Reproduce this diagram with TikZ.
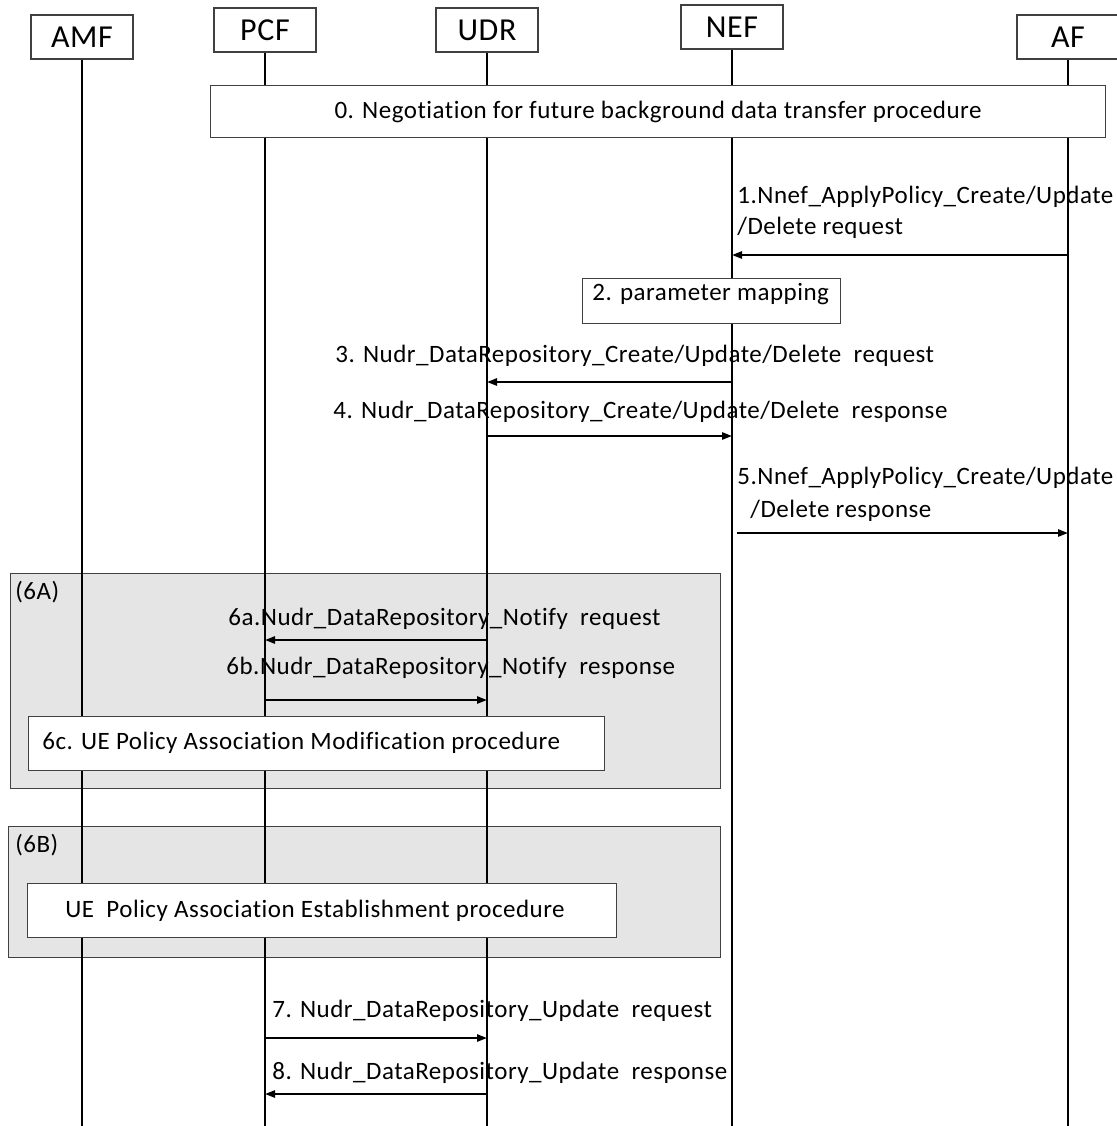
\documentclass[tikz,border=0pt]{standalone}
\usepackage{fontspec}
\setmainfont{Carlito}[Ligatures=NoCommon,LetterSpace=2]
\usetikzlibrary{arrows.meta}
\tikzset{
  party/.style={draw=black!75,line width=0.6pt,minimum width=51pt,minimum height=22pt,inner sep=0pt,font=\fontsize{16}{19}\selectfont},
  procbox/.style={draw=black!75,fill=white,line width=0.6pt,inner sep=0pt,anchor=north west},
  groupbox/.style={draw=black!75,fill=black!10,line width=0.6pt,inner sep=0pt,anchor=north west},
  lifeline/.style={line width=0.7pt},
  msg/.style={line width=1pt,-{Triangle[length=5pt,width=3.6pt]}},
  lbl/.style={anchor=west,inner sep=0pt,font=\fontsize{12.5}{15}\selectfont}
}
\begin{document}
\begin{tikzpicture}[x=0.5pt,y=-0.5pt]
\useasboundingbox (0,0) rectangle (1117,1126);
% groups 6A and 6B
\node[groupbox,minimum width=355pt,minimum height=107.5pt] (g6a) at (10,573) {};
\node[groupbox,minimum width=356pt,minimum height=65.5pt] (g6b) at (8,826) {};
\node[lbl] (t6a) at (15,592) {(6A)};
\node[lbl] (t6b) at (15,845) {(6B)};
% participants
\node[party] (amf) at (82,37) {AMF};
\node[party] (pcf) at (265,30) {PCF};
\node[party] (udr) at (487,30) {UDR};
\node[party] (nef) at (732,27) {NEF};
\node[party] (af) at (1068,37) {AF};
% message labels
\node[lbl] (m1a) at (737,197) {1.Nnef\_ApplyPolicy\_Create/Update};
\node[lbl] (m1b) at (737,228) {/Delete request};
\node[lbl] (m3) at (335,356) {3. Nudr\_DataRepository\_Create/Update/Delete~ request};
\node[lbl] (m4) at (333,412) {4. Nudr\_DataRepository\_Create/Update/Delete~ response};
\node[lbl] (m5a) at (737,478) {5.Nnef\_ApplyPolicy\_Create/Update};
\node[lbl] (m5b) at (750,511) {/Delete response};
\node[lbl] (m6a) at (228,619) {6a.Nudr\_DataRepository\_Notify~ request};
\node[lbl] (m6b) at (226,668) {6b.Nudr\_DataRepository\_Notify~ response};
\node[lbl] (m7) at (272,1011) {7. Nudr\_DataRepository\_Update~ request};
\node[lbl] (m8) at (272,1073) {8. Nudr\_DataRepository\_Update~ response};
% lifelines
\foreach \p in {amf,pcf,udr,nef,af}
  \draw[lifeline] (\p.south) -- (\p |- 0,1126) coordinate (\p end);
% procedure boxes
\node[procbox,minimum width=447.5pt,minimum height=26pt] (p0) at (210,85) {};
\node[font=\fontsize{12.5}{15}\selectfont] (t0) at (p0.center) {0. Negotiation for future background data transfer procedure};
\node[procbox,minimum width=129pt,minimum height=22.5pt] (p2) at (582,278) {};
\node[lbl] (t2) at (592,294) {2. parameter mapping};
\node[procbox,minimum width=288pt,minimum height=27pt] (p6c) at (28,716) {};
\node[lbl] (t6c) at (42,743) {6c. UE Policy Association Modification procedure};
\node[procbox,minimum width=294.5pt,minimum height=27pt] (p6e) at (27,883) {};
\node[lbl] (t6e) at (65,911) {UE~ Policy Association Establishment procedure};
% messages
\path (af |- 0,255) coordinate (af1) (nef |- 0,255) coordinate (nef1);
\path (nef |- 0,382) coordinate (nef3) (udr |- 0,382) coordinate (udr3);
\path (udr |- 0,436) coordinate (udr4) (nef |- 0,436) coordinate (nef4);
\path ([xshift=2.5pt]nef |- 0,533) coordinate (nef5) (af |- 0,533) coordinate (af5);
\path (udr |- 0,640) coordinate (udr6a) (pcf |- 0,640) coordinate (pcf6a);
\path (pcf |- 0,700) coordinate (pcf6b) (udr |- 0,700) coordinate (udr6b);
\path (pcf |- 0,1038) coordinate (pcf7) (udr |- 0,1038) coordinate (udr7);
\path (udr |- 0,1094) coordinate (udr8) (pcf |- 0,1094) coordinate (pcf8);
\draw[msg] (af1) -- (nef1);
\draw[msg] (nef3) -- (udr3);
\draw[msg] (udr4) -- (nef4);
\draw[msg] (nef5) -- (af5);
\draw[msg] (udr6a) -- (pcf6a);
\draw[msg] (pcf6b) -- (udr6b);
\draw[msg] (pcf7) -- (udr7);
\draw[msg] (udr8) -- (pcf8);
\end{tikzpicture}
\end{document}
